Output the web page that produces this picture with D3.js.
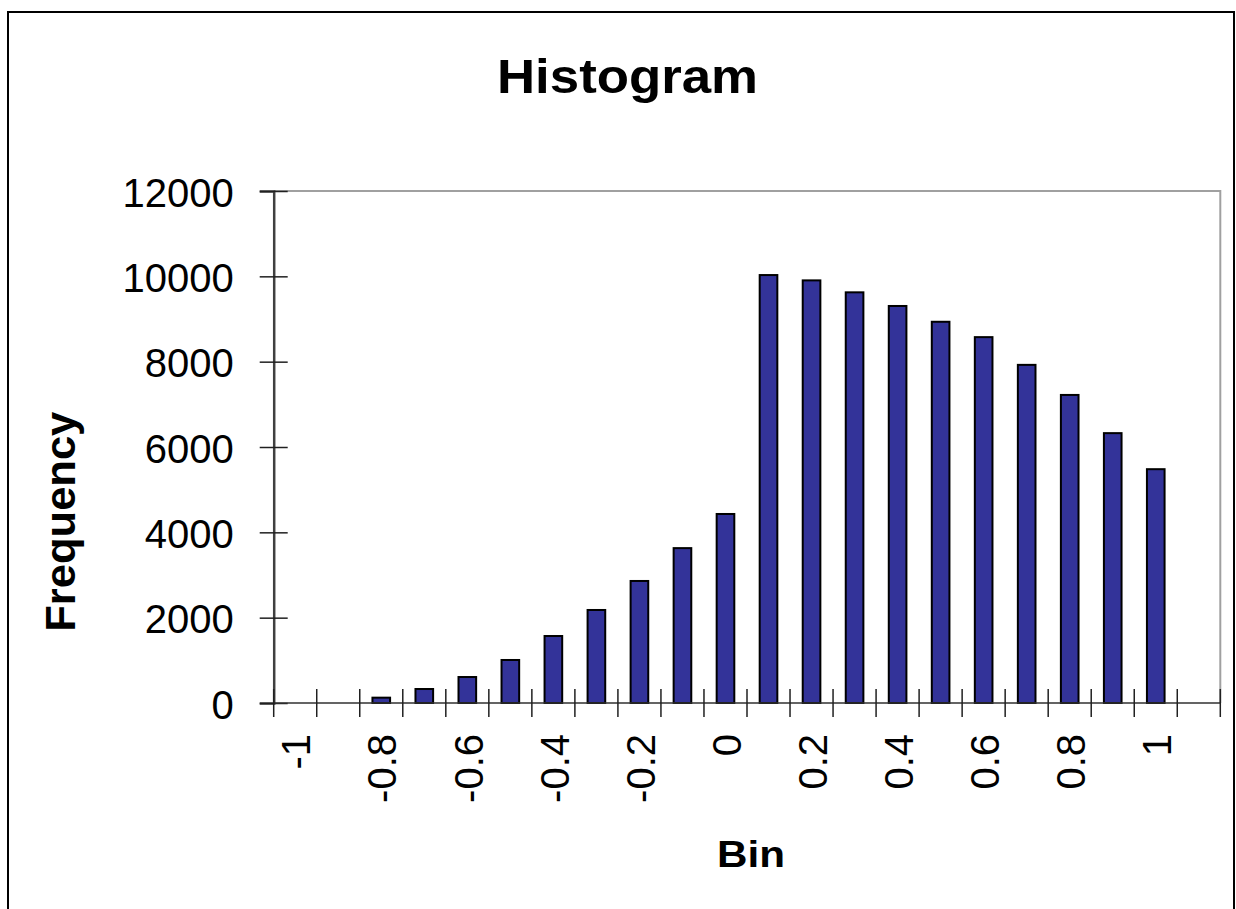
<!DOCTYPE html>
<html>
<head>
<meta charset="utf-8">
<script src="https://cdn.jsdelivr.net/npm/d3@7"></script>
<style>
  html, body { margin: 0; padding: 0; background: #fff; }
  svg { display: block; font-family: "Liberation Sans", Arial, sans-serif; }
</style>
</head>
<body>
<svg id="chart" width="1236" height="909"></svg>
<script>
// Histogram bins (upper bin edges) and the count in each bin
const bins = ["-1", "-0.9", "-0.8", "-0.7", "-0.6", "-0.5", "-0.4", "-0.3", "-0.2", "-0.1", "0",
              "0.1", "0.2", "0.3", "0.4", "0.5", "0.6", "0.7", "0.8", "0.9", "1", "More"];
const frequency = [0, 0, 125, 328, 609, 1008, 1570, 2180, 2860, 3630, 4430,
                   10030, 9905, 9625, 9305, 8935, 8575, 7925, 7220, 6325, 5480, 0];
const yTicks = [0, 2000, 4000, 6000, 8000, 10000, 12000];
// every second bin gets a label on the category axis
const labelledBins = ["-1", "-0.8", "-0.6", "-0.4", "-0.2", "0", "0.2", "0.4", "0.6", "0.8", "1"];

const svg = d3.select("#chart");
const plot = { left: 273.7, right: 1220.3, top: 191, bottom: 703 };

// outer chart frame
svg.append("rect")
  .attr("x", 8).attr("y", 12)
  .attr("width", 1226).attr("height", 920)
  .attr("fill", "#fff").attr("stroke", "#000").attr("stroke-width", 2);

// scales
const cell = d3.scaleBand().domain(bins).range([plot.left, plot.right]).padding(0);
const x = d3.scaleBand().domain(bins).range([plot.left, plot.right])
  .paddingInner(0.59).paddingOuter(0.295);
const y = d3.scaleLinear().domain([0, 12000]).range([plot.bottom, plot.top]);

// plot area border (top and right)
svg.append("path")
  .attr("d", `M${plot.left},${plot.top}H${plot.right}V${plot.bottom}`)
  .attr("fill", "none").attr("stroke", "#a0a0a0").attr("stroke-width", 2);

// bars
svg.append("g").selectAll("rect")
  .data(bins.map((b, i) => ({ bin: b, value: frequency[i] })).filter(d => d.value > 0))
  .join("rect")
  .attr("x", d => x(d.bin))
  .attr("y", d => y(d.value))
  .attr("width", x.bandwidth())
  .attr("height", d => y(0) - y(d.value))
  .attr("fill", "#333399")
  .attr("stroke", "#000")
  .attr("stroke-width", 2);

// value axis
const yAxis = svg.append("g")
  .attr("transform", `translate(${plot.left},0)`)
  .call(d3.axisLeft(y).tickValues(yTicks).tickSize(14).tickPadding(0).tickFormat(d3.format("d")));
yAxis.select(".domain").attr("stroke", "#404040").attr("stroke-width", 2.5);
yAxis.selectAll(".tick line").attr("x1", 14).attr("x2", -14)
  .attr("stroke", "#202020").attr("stroke-width", 1.5);
yAxis.selectAll(".tick text")
  .attr("x", -40).attr("dy", "0.38em")
  .attr("font-size", 40).attr("fill", "#000")
  .attr("font-family", "Liberation Sans, Arial, sans-serif");

// category axis: baseline and boundary ticks
const xAxis = svg.append("g");
xAxis.append("line")
  .attr("x1", plot.left).attr("x2", plot.right)
  .attr("y1", y(0)).attr("y2", y(0))
  .attr("stroke", "#303030").attr("stroke-width", 1.5);
const edges = bins.map(b => cell(b)).concat([plot.right]);
xAxis.selectAll("line.tick")
  .data(edges)
  .join("line")
  .attr("class", "tick")
  .attr("x1", d => d).attr("x2", d => d)
  .attr("y1", y(0) - 14).attr("y2", y(0) + 14)
  .attr("stroke", "#202020").attr("stroke-width", 1.5);
xAxis.selectAll("text")
  .data(labelledBins)
  .join("text")
  .attr("transform", d => `translate(${x(d) + x.bandwidth() / 2},734) rotate(-90)`)
  .attr("text-anchor", "end")
  .attr("dy", "0.38em")
  .attr("font-size", 40)
  .attr("fill", "#000")
  .text(d => d);

// titles
svg.append("text")
  .attr("x", 627.5).attr("y", 92.5)
  .attr("text-anchor", "middle")
  .attr("font-size", 49).attr("font-weight", "bold")
  .attr("textLength", 261).attr("lengthAdjust", "spacingAndGlyphs")
  .text("Histogram");

svg.append("text")
  .attr("x", 751).attr("y", 866.5)
  .attr("text-anchor", "middle")
  .attr("font-size", 36).attr("font-weight", "bold")
  .attr("textLength", 68).attr("lengthAdjust", "spacingAndGlyphs")
  .text("Bin");

svg.append("text")
  .attr("transform", "translate(75,521.7) rotate(-90)")
  .attr("text-anchor", "middle")
  .attr("font-size", 42).attr("font-weight", "bold")
  .attr("textLength", 220).attr("lengthAdjust", "spacingAndGlyphs")
  .text("Frequency");
</script>
</body>
</html>
